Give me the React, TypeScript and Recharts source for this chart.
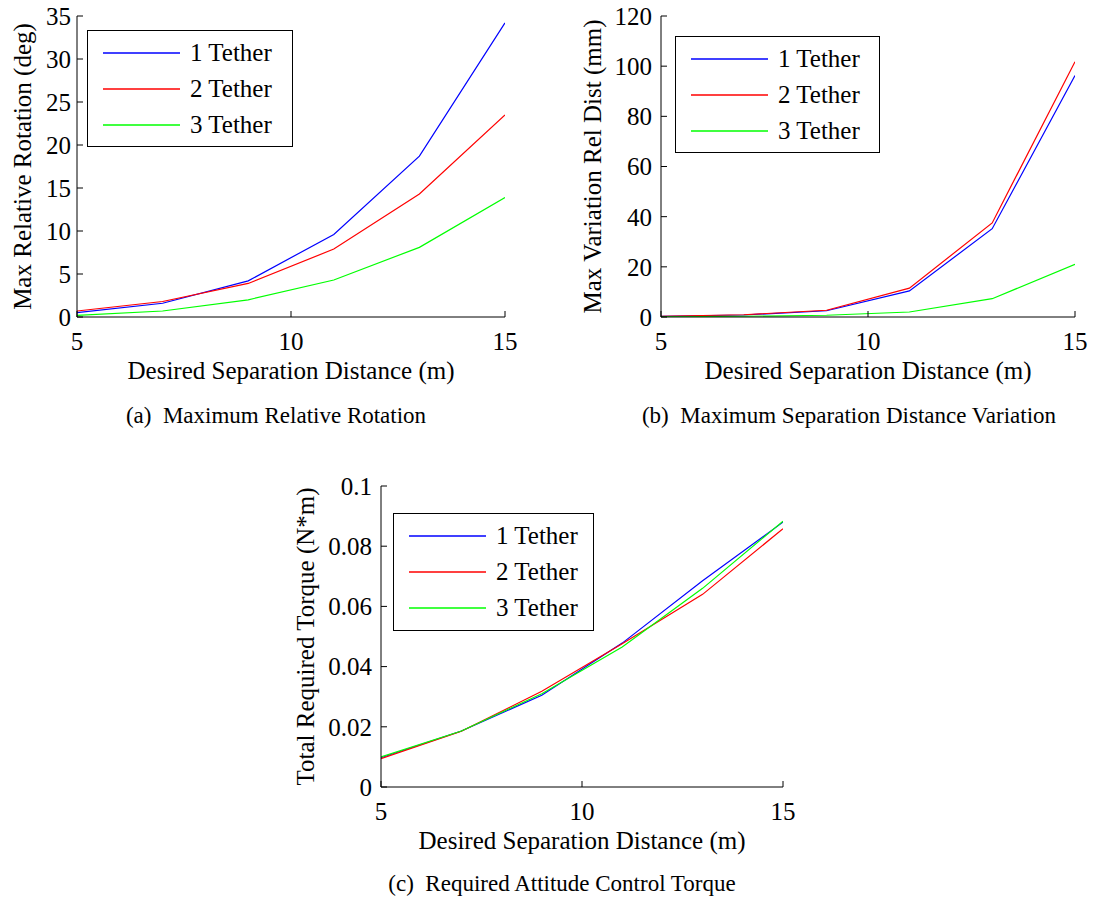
import { LineChart, Line, XAxis, YAxis, Legend } from "recharts";

// Separation distances (m) used in every panel
const DISTANCE = [5, 7, 9, 11, 13, 15];
const X_TICKS = [5, 10, 15];
const SERIES_NAMES = ["1 Tether", "2 Tether", "3 Tether"];
const SERIES_COLORS = ["#0000ff", "#ff0000", "#00ff00"];

// (a) max relative rotation, deg
const ROTATION_1 = [0.5, 1.6, 4.2, 9.6, 18.7, 34.2];
const ROTATION_2 = [0.7, 1.8, 3.9, 7.9, 14.3, 23.5];
const ROTATION_3 = [0.2, 0.7, 2.0, 4.3, 8.1, 13.9];
const ROTATION_TICKS = [0, 5, 10, 15, 20, 25, 30, 35];

// (b) max separation distance variation, mm
const VARIATION_1 = [0.3, 0.8, 2.5, 10.4, 35.2, 96.3];
const VARIATION_2 = [0.3, 0.9, 2.7, 11.5, 37.5, 101.8];
const VARIATION_3 = [0.1, 0.3, 0.7, 2.0, 7.3, 21.0];
const VARIATION_TICKS = [0, 20, 40, 60, 80, 100, 120];

// (c) total required torque, N*m
const TORQUE_1 = [0.0097, 0.0186, 0.0305, 0.0478, 0.0685, 0.088];
const TORQUE_2 = [0.0094, 0.0185, 0.0318, 0.0476, 0.064, 0.0858];
const TORQUE_3 = [0.01, 0.0186, 0.031, 0.0465, 0.066, 0.0883];
const TORQUE_TICKS = [0, 0.02, 0.04, 0.06, 0.08, 0.1];

const SERIF = '"Liberation Serif", "Times New Roman", Times, serif';
const FONT = 25;
const KEYS = ["s1", "s2", "s3"];

function buildRows(series: number[][]) {
  return DISTANCE.map((x, i) => ({
    x,
    s1: series[0][i],
    s2: series[1][i],
    s3: series[2][i],
  }));
}

function LegendBox({ width, height }: { width: number; height: number }) {
  return (
    <div
      style={{
        width,
        height,
        boxSizing: "border-box",
        border: "1px solid #000",
        background: "#fff",
        position: "relative",
        fontFamily: SERIF,
        fontSize: FONT,
        color: "#000",
      }}
    >
      {SERIES_NAMES.map((name, i) => (
        <div
          key={name}
          style={{
            position: "absolute",
            left: 0,
            top: 22 + 36 * i - 15,
            height: 30,
            display: "flex",
            alignItems: "center",
            whiteSpace: "nowrap",
          }}
        >
          <svg width={92} height={30} style={{ display: "block" }}>
            <line x1={15} x2={92} y1={15} y2={15} stroke={SERIES_COLORS[i]} strokeWidth={1.3} />
          </svg>
          <span style={{ marginLeft: 10, lineHeight: "30px" }}>{name}</span>
        </div>
      ))}
    </div>
  );
}

interface PanelProps {
  left: number;
  top: number;
  width: number;
  yWidth: number;
  marginRight: number;
  rows: Record<string, number>[];
  yTicks: number[];
  yLabel: string;
  yLabelDx: number;
  yTickMargin: number;
  legend: { left: number; top: number; width: number; height: number };
}

function Panel(p: PanelProps) {
  const yDomain: [number, number] = [p.yTicks[0], p.yTicks[p.yTicks.length - 1]];
  const tickStyle = { fill: "#000", fontSize: FONT, fontFamily: SERIF };
  return (
    <div style={{ position: "absolute", left: p.left, top: p.top }}>
      <LineChart
        width={p.width}
        height={390}
        data={p.rows}
        margin={{ top: 16, right: p.marginRight, bottom: 3, left: 0 }}
      >
        <XAxis
          dataKey="x"
          type="number"
          domain={[5, 15]}
          ticks={X_TICKS}
          interval={0}
          allowDataOverflow
          height={70}
          stroke="#000"
          tickSize={-6}
          tickMargin={21}
          tick={tickStyle}
          label={{
            value: "Desired Separation Distance (m)",
            position: "insideBottom",
            offset: 8,
            fill: "#000",
            fontSize: FONT,
            fontFamily: SERIF,
          }}
        />
        <XAxis
          xAxisId="top"
          orientation="top"
          type="number"
          domain={[5, 15]}
          ticks={X_TICKS}
          interval={0}
          allowDataOverflow
          height={0}
          stroke="#000"
          tickSize={-6}
          tick={false}
        />
        <YAxis
          type="number"
          domain={yDomain}
          ticks={p.yTicks}
          interval={0}
          allowDataOverflow
          width={p.yWidth}
          stroke="#000"
          tickSize={-6}
          tickMargin={p.yTickMargin}
          tick={tickStyle}
          tickFormatter={(v: number) => String(Number(v.toFixed(3)))}
          label={{
            value: p.yLabel,
            angle: -90,
            position: "center",
            dx: p.yLabelDx,
            fill: "#000",
            fontSize: FONT,
            fontFamily: SERIF,
          }}
        />
        <YAxis
          yAxisId="right"
          orientation="right"
          type="number"
          domain={yDomain}
          ticks={p.yTicks}
          interval={0}
          allowDataOverflow
          width={0}
          stroke="#000"
          tickSize={-6}
          tick={false}
        />
        <Legend
          layout="horizontal"
          verticalAlign="middle"
          align="center"
          wrapperStyle={{
            left: p.legend.left,
            top: p.legend.top,
            width: p.legend.width,
            height: p.legend.height,
          }}
          content={() => <LegendBox width={p.legend.width} height={p.legend.height} />}
        />
        {KEYS.map((k, i) => (
          <Line
            key={k}
            type="linear"
            dataKey={k}
            name={SERIES_NAMES[i]}
            stroke={SERIES_COLORS[i]}
            strokeWidth={1.2}
            dot={false}
            activeDot={false}
            isAnimationActive={false}
          />
        ))}
      </LineChart>
    </div>
  );
}

const CAPTIONS = [
  { text: "(a)  Maximum Relative Rotation", x: 276, y: 423 },
  { text: "(b)  Maximum Separation Distance Variation", x: 849, y: 423 },
  { text: "(c)  Required Attitude Control Torque", x: 562, y: 891 },
];

export default function App() {
  return (
    <div
      style={{
        position: "absolute",
        left: 0,
        top: 0,
        width: 1094,
        height: 899,
        background: "#fff",
        overflow: "hidden",
      }}
    >
      <Panel
        left={0}
        top={0}
        width={530}
        yWidth={77}
        marginRight={25}
        rows={buildRows([ROTATION_1, ROTATION_2, ROTATION_3])}
        yTicks={ROTATION_TICKS}
        yLabel="Max Relative Rotation (deg)"
        yLabelDx={-16}
        yTickMargin={12}
        legend={{ left: 87, top: 30, width: 206, height: 117 }}
      />
      <Panel
        left={570}
        top={0}
        width={524}
        yWidth={91}
        marginRight={19}
        rows={buildRows([VARIATION_1, VARIATION_2, VARIATION_3])}
        yTicks={VARIATION_TICKS}
        yLabel="Max Variation Rel Dist (mm)"
        yLabelDx={-23}
        yTickMargin={15}
        legend={{ left: 105, top: 36, width: 205, height: 117 }}
      />
      <Panel
        left={280}
        top={470}
        width={520}
        yWidth={101}
        marginRight={17}
        rows={buildRows([TORQUE_1, TORQUE_2, TORQUE_3])}
        yTicks={TORQUE_TICKS}
        yLabel="Total Required Torque (N*m)"
        yLabelDx={-25}
        yTickMargin={15}
        legend={{ left: 113, top: 43, width: 201, height: 118 }}
      />
      <svg
        width={1094}
        height={899}
        style={{ position: "absolute", left: 0, top: 0, pointerEvents: "none" }}
      >
        {CAPTIONS.map((c) => (
          <text
            key={c.text}
            x={c.x}
            y={c.y}
            textAnchor="middle"
            fontFamily={SERIF}
            fontSize={23}
            fill="#000"
            style={{ whiteSpace: "pre" }}
          >
            {c.text}
          </text>
        ))}
      </svg>
    </div>
  );
}
